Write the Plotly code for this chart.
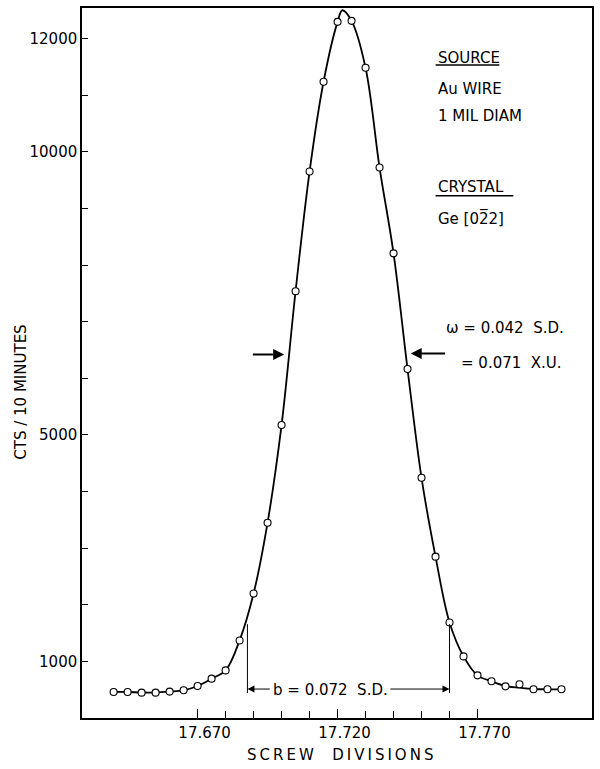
import plotly.graph_objects as go

# ---- data ----
x_pts = [17.640, 17.645, 17.650, 17.655, 17.660, 17.665, 17.670, 17.675, 17.680,
         17.685, 17.690, 17.695, 17.700, 17.705, 17.710, 17.715, 17.720, 17.725,
         17.730, 17.735, 17.740, 17.745, 17.750, 17.755, 17.760, 17.765, 17.770,
         17.775, 17.780, 17.785, 17.790, 17.795, 17.800]
counts = [459, 459, 448, 448, 466, 489, 565, 695, 841,
          1370, 2198, 3449, 5176, 7537, 9652, 11238, 12295, 12313,
          11485, 9722, 8207, 6163, 4242, 2850, 1687, 1088, 753,
          648, 559, 595, 507, 507, 507]

# hand-drawn smooth curve
curve_x = [17.640, 17.645, 17.650, 17.655, 17.660, 17.665, 17.670, 17.675, 17.680,
           17.685, 17.690, 17.695, 17.700, 17.705, 17.710, 17.715, 17.720, 17.7217,
           17.725, 17.730, 17.735, 17.740, 17.745, 17.750, 17.755, 17.760, 17.765,
           17.770, 17.775, 17.780, 17.785, 17.790, 17.795, 17.800]
curve_y = [459, 459, 450, 450, 466, 489, 565, 695, 841,
           1370, 2198, 3449, 5176, 7537, 9652, 11238, 12295, 12500,
           12313, 11485, 9722, 8207, 6163, 4242, 2850, 1687, 1088,
           753, 648, 565, 535, 512, 507, 507]

x_major = [17.670, 17.720, 17.770]
x_major_text = ["17.670", "17.720", "17.770"]
x_minor = [17.680, 17.690, 17.700, 17.710, 17.730, 17.740, 17.750, 17.760]
y_ticks = [1000, 2000, 3000, 4000, 5000, 6000, 7000, 8000, 9000, 10000, 11000, 12000]
y_text = ["1000", "", "", "", "5000", "", "", "", "", "10000", "", "12000"]

X_RANGE = [17.6287, 17.8109]
Y_RANGE = [0, 12540]

FONT = "DejaVu Sans"
W, H = 600, 769
ML, MR, MT, MB = 82, 6, 7, 51
PW, PH = W - ML - MR, H - MT - MB


def px(xp):
    return (xp - ML) / PW


def py(yp):
    return (H - MB - yp) / PH


def X(xp):
    return X_RANGE[0] + (xp - ML) / PW * (X_RANGE[1] - X_RANGE[0])


def Y(yp):
    return Y_RANGE[0] + (H - MB - yp) / PH * (Y_RANGE[1] - Y_RANGE[0])


fig = go.Figure()
fig.add_trace(go.Scatter(x=curve_x, y=curve_y, mode="lines",
                         line=dict(color="black", width=1.8, shape="spline", smoothing=1.0),
                         hoverinfo="skip"))
fig.add_trace(go.Scatter(x=x_pts, y=counts, mode="markers",
                         marker=dict(symbol="circle", size=7, color="white",
                                     line=dict(color="black", width=1.1))))

tf = dict(family=FONT, size=15, color="black")
ann = []
# legend-like text block
for txt, xp, yp in [("SOURCE", 437, 57), ("Au WIRE", 437, 88), ("1 MIL DIAM", 437, 115),
                    ("CRYSTAL", 437, 186), ("Ge [02\u03052]", 437, 218),
                    ("\u03c9 = 0.042  S.D.", 445, 327), ("= 0.071  X.U.", 460, 362)]:
    ann.append(dict(x=px(xp), y=py(yp), xref="paper", yref="paper", text=txt,
                    showarrow=False, xanchor="left", yanchor="middle", font=tf))

# omega arrows
for tip, tail, yy in [(285, 252, 354), (412, 448, 353)]:
    ann.append(dict(x=X(tip), y=Y(yy), ax=X(tail), ay=Y(yy), xref="x", yref="y",
                    axref="x", ayref="y", text="", showarrow=True, arrowhead=2,
                    arrowsize=1.1, arrowwidth=2, arrowcolor="black"))

# b dimension
bl, br = 17.6878, 17.7600
ann.append(dict(x=bl, y=Y(689), ax=X(272), ay=Y(689), xref="x", yref="y", axref="x", ayref="y",
                text="", showarrow=True, arrowhead=2, arrowsize=1.4, arrowwidth=1, arrowcolor="black"))
ann.append(dict(x=br, y=Y(689), ax=X(390), ay=Y(689), xref="x", yref="y", axref="x", ayref="y",
                text="", showarrow=True, arrowhead=2, arrowsize=1.4, arrowwidth=1, arrowcolor="black"))
ann.append(dict(x=X(331), y=Y(690), xref="x", yref="y", text="b = 0.072  S.D.", showarrow=False,
                xanchor="center", yanchor="middle", font=tf))

# axis titles
ann.append(dict(x=px(21), y=py(392), xref="paper", yref="paper", text="CTS / 10 MINUTES",
                textangle=-90, showarrow=False, xanchor="center", yanchor="middle",
                font=dict(family=FONT, size=15, color="black")))
ann.append(dict(x=px(343), y=py(755), xref="paper", yref="paper",
                text='<span style="letter-spacing:3px">SCREW  DIVISIONS</span>',
                showarrow=False, xanchor="center", yanchor="middle",
                font=dict(family=FONT, size=15, color="black")))

shapes = [
    dict(type="line", xref="x", yref="y", x0=bl, x1=bl, y0=Y(624), y1=Y(693),
         line=dict(color="black", width=1)),
    dict(type="line", xref="x", yref="y", x0=br, x1=br, y0=Y(624), y1=Y(693),
         line=dict(color="black", width=1)),
    dict(type="line", xref="paper", yref="paper", x0=px(437), x1=px(501), y0=py(64), y1=py(64),
         line=dict(color="black", width=1.5)),
    dict(type="line", xref="paper", yref="paper", x0=px(437), x1=px(515), y0=py(195), y1=py(195),
         line=dict(color="black", width=1.5)),
]

fig.update_layout(
    width=W, height=H, margin=dict(l=ML, r=MR, t=MT, b=MB),
    paper_bgcolor="white", plot_bgcolor="white", showlegend=False,
    annotations=ann, shapes=shapes,
    xaxis=dict(range=X_RANGE, showline=True, linecolor="black", linewidth=1.5, mirror=True,
               ticks="inside", ticklen=9, tickwidth=1.2, tickcolor="black",
               tickvals=x_major, ticktext=x_major_text, tickfont=tf, ticklabelshift=7,
               minor=dict(tickvals=x_minor, ticks="inside", ticklen=7, tickwidth=1.2,
                          tickcolor="black", showgrid=False),
               showgrid=False, zeroline=False),
    yaxis=dict(range=Y_RANGE, showline=True, linecolor="black", linewidth=1.5, mirror=True,
               ticks="inside", ticklen=6, tickwidth=1.2, tickcolor="black",
               tickvals=y_ticks, ticktext=y_text, tickfont=tf,
               showgrid=False, zeroline=False),
)

fig.write_html("out.html")
